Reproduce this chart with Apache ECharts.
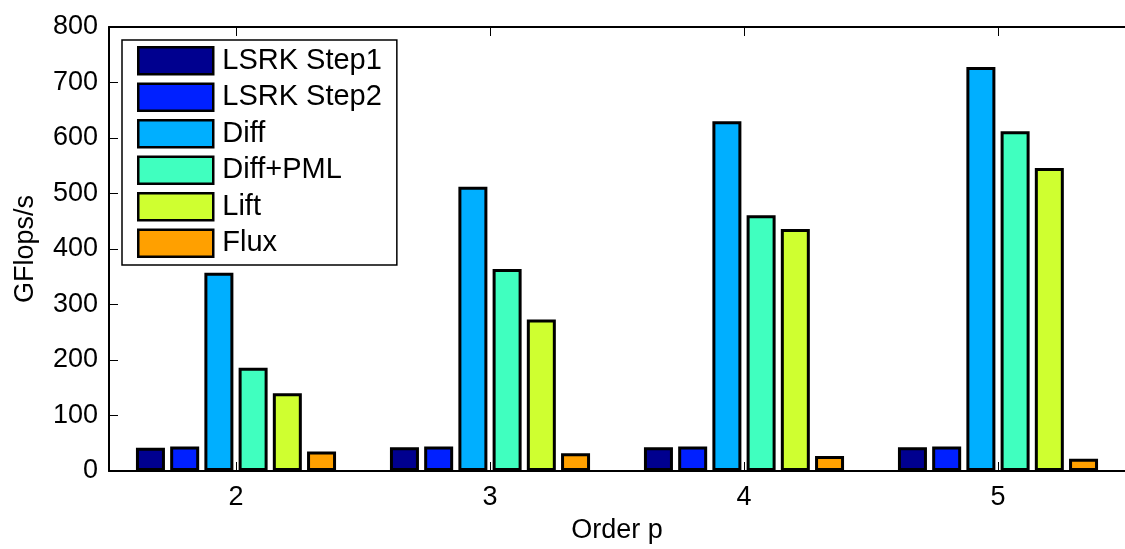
<!DOCTYPE html>
<html>
<head>
<meta charset="utf-8">
<script src="https://cdn.jsdelivr.net/npm/echarts@6/dist/echarts.min.js"></script>
<style>
  html, body { margin: 0; padding: 0; background: #fff; overflow: hidden; width: 1125px; height: 549px; }
  #chart { display: block; width: 1125px; height: 549px; overflow: hidden; }
</style>
</head>
<body>
<div id="chart"></div>
<script>
// Polynomial orders on the x axis
const orders = ['2', '3', '4', '5'];

// Kernel names and fill colours
const kernelNames = ['LSRK Step1', 'LSRK Step2', 'Diff', 'Diff+PML', 'Lift', 'Flux'];
const kernelColors = ['#00008f', '#0020ff', '#00afff', '#40ffbf', '#cfff30', '#ffa000'];

// Throughput (GFlops/s) per kernel, one value per order
const lsrkStep1 = [42, 43, 43, 43];
const lsrkStep2 = [44, 44, 44, 44];
const diff = [357, 512, 630, 728];
const diffPml = [186, 364, 461, 612];
const lift = [140, 273, 436, 546];
const flux = [35, 32, 27, 22];

// Y axis ticks
const yTicks = [0, 100, 200, 300, 400, 500, 600, 700, 800];

const seriesValues = [lsrkStep1, lsrkStep2, diff, diffPml, lift, flux];

const FONT = "'Liberation Sans', Arial, Helvetica, sans-serif";

const chart = echarts.init(document.getElementById('chart'), null, { renderer: 'canvas', width: 1125, height: 549 });

chart.setOption({
  animation: false,
  backgroundColor: '#ffffff',
  grid: { left: 109, top: 27, width: 1026, height: 450, containLabel: false },
  legend: {
    left: 122,
    top: 40,
    orient: 'vertical',
    data: kernelNames,
    icon: 'rect',
    itemWidth: 75,
    itemHeight: 27,
    itemGap: 7,
    padding: [6, 15, 7, 15],
    backgroundColor: '#ffffff',
    borderColor: '#000000',
    borderWidth: 1.5,
    borderRadius: 0,
    selectedMode: false,
    itemStyle: { borderWidth: 2.5, borderColor: '#000' },
    textStyle: {
      fontFamily: FONT,
      fontSize: 29,
      color: '#000',
      padding: [0, 0, 0, 4]
    }
  },
  xAxis: [
    {
      type: 'category',
      data: orders,
      position: 'bottom',
      name: 'Order p',
      nameLocation: 'middle',
      nameGap: 46,
      nameTextStyle: { fontFamily: FONT, fontSize: 27, color: '#000' },
      axisLine: { show: true, lineStyle: { color: '#000', width: 2 } },
      axisTick: { show: true, inside: true, alignWithLabel: true, length: 9, lineStyle: { color: '#000', width: 1 } },
      axisLabel: { fontFamily: FONT, fontSize: 27, color: '#000', margin: 13 },
      splitLine: { show: false }
    },
    {
      type: 'category',
      data: orders,
      position: 'top',
      axisLine: { show: true, lineStyle: { color: '#000', width: 2 } },
      axisTick: { show: true, inside: true, alignWithLabel: true, length: 9, lineStyle: { color: '#000', width: 1 } },
      axisLabel: { show: false },
      splitLine: { show: false }
    }
  ],
  yAxis: {
    type: 'value',
    min: yTicks[0],
    max: yTicks[yTicks.length - 1],
    interval: yTicks[1] - yTicks[0],
    name: 'GFlops/s',
    nameLocation: 'middle',
    nameGap: 70,
    nameTextStyle: { fontFamily: FONT, fontSize: 27, color: '#000' },
    axisLine: { show: true, lineStyle: { color: '#000', width: 2 } },
    axisTick: { show: true, inside: true, length: 9, lineStyle: { color: '#000', width: 1 } },
    axisLabel: { fontFamily: FONT, fontSize: 27, color: '#000', margin: 11 },
    splitLine: { show: false }
  },
  series: kernelNames.map((name, i) => ({
    name: name,
    type: 'bar',
    xAxisIndex: 0,
    data: seriesValues[i],
    barWidth: 29,
    barGap: '18%',
    itemStyle: {
      color: kernelColors[i],
      borderColor: '#000',
      borderWidth: 3
    }
  }))
});
</script>
</body>
</html>
